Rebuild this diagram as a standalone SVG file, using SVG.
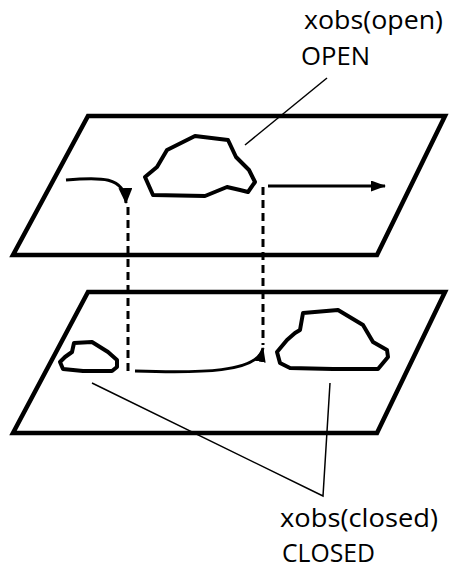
<svg xmlns="http://www.w3.org/2000/svg" width="451" height="571" viewBox="0 0 451 571">
<style>
.plane{fill:#fff;stroke:#000;stroke-width:4.5;stroke-linejoin:miter}
.cloud{fill:none;stroke:#000;stroke-width:4;stroke-linejoin:round}
.leader{fill:none;stroke:#000;stroke-width:1.5}
.flow{fill:none;stroke:#000;stroke-width:3}
.dash{fill:none;stroke:#000;stroke-width:3;stroke-dasharray:8 5}
.lbl{font-family:"Open Sans","DejaVu Sans",sans-serif;font-size:26px;fill:#000}
</style>
<defs>
<marker id="ah" viewBox="0 0 15 11" refX="14" refY="5.5" markerWidth="15" markerHeight="11" markerUnits="userSpaceOnUse" orient="auto">
<path d="M0,0 L15,5.5 L0,11 Z" fill="#000"/>
</marker>
<marker id="ahL" viewBox="0 0 16 14" refX="15" refY="7" markerWidth="16" markerHeight="14" markerUnits="userSpaceOnUse" orient="auto">
<path d="M0,0 L16,7 L0,14 Z" fill="#000"/>
</marker>
</defs>
<g id="plane-closed">
<polygon class="plane" points="88,292 445,292 377,433 13,433"/>
</g>
<g id="plane-open">
<polygon class="plane" points="88,116 445,116 377,255 13,255"/>
</g>
<g id="cloud-open">
<polygon class="cloud" points="145,177 153,195 205,196 227,187 240,190 248,192 255,182 249,170 236,157 228,140 195,136 167,150 157,167"/>
</g>
<g id="cloud-closed-small">
<polygon class="cloud" points="60,362 63,369 83,371 112,371 117,367 117,360 108,352 92,342 74,343 72,352 65,357"/>
</g>
<g id="cloud-closed-big">
<polygon class="cloud" points="277,352 280,363 290,368 333,369 378,369 388,357 387,350 373,342 363,325 338,310 303,313 300,330 295,333 287,340"/>
</g>
<g id="connectors">
<path class="flow" d="M66,180 C100,177 125,176 126,203" marker-end="url(#ahL)"/>
<path class="flow" d="M268,186 L385,186" marker-end="url(#ah)"/>
<path class="flow" d="M135,371 C200,373 258,373 263,348" marker-end="url(#ah)"/>
<path class="dash" d="M128,207 L128,371"/>
<path class="dash" d="M263,187 L263,345"/>
<path class="leader" d="M245,145 L327,78"/>
<path class="leader" d="M92,383 L323,496 L330,383"/>
</g>
<g id="labels">
<text class="lbl" x="304" y="29" textLength="139" lengthAdjust="spacingAndGlyphs">xobs(open)</text>
<text class="lbl" x="301" y="65" textLength="69" lengthAdjust="spacingAndGlyphs">OPEN</text>
<text class="lbl" x="280" y="527" textLength="158" lengthAdjust="spacingAndGlyphs">xobs(closed)</text>
<text class="lbl" x="282" y="562" textLength="93" lengthAdjust="spacingAndGlyphs">CLOSED</text>
</g>
</svg>
